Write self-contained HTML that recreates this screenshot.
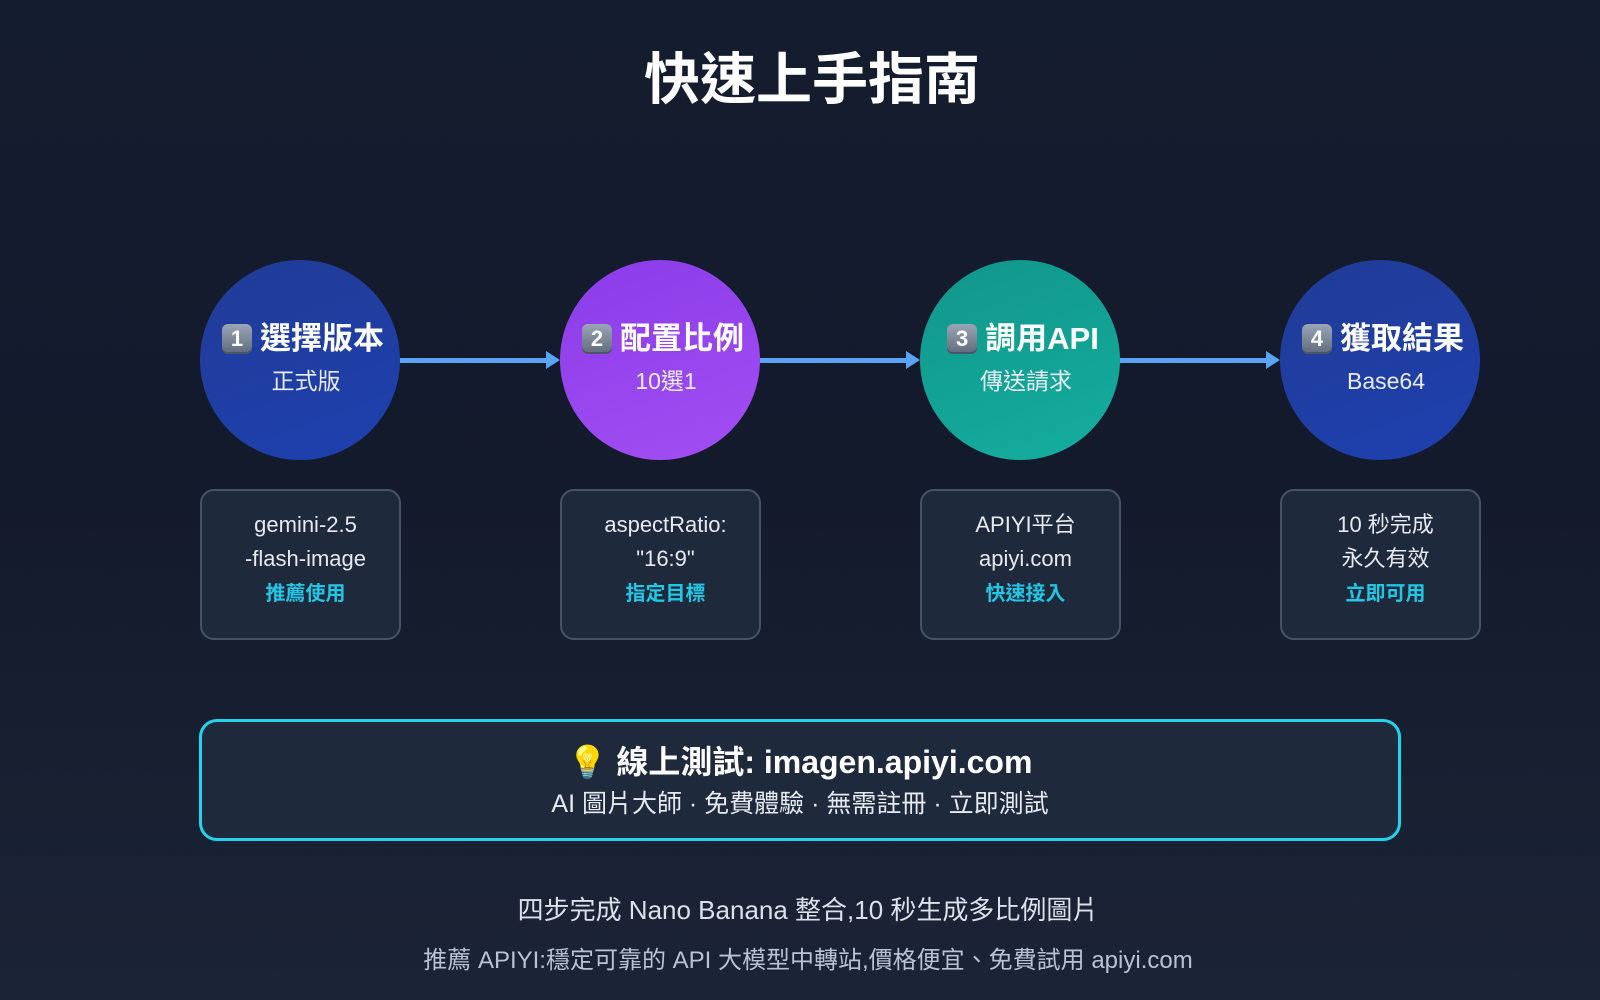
<!DOCTYPE html>
<html><head><meta charset="utf-8"><style>
*{margin:0;padding:0;box-sizing:border-box}
body{width:1600px;height:1000px;overflow:hidden;background:linear-gradient(180deg,#141c2f 0%,#131a2c 50%,#1b2436 100%);font-family:"Liberation Sans","Noto Sans CJK TC",sans-serif;color:#fff;position:relative}
.abs{position:absolute}
.title{left:12px;width:1600px;top:44px;text-align:center;font-size:56px;font-weight:bold;line-height:72px}
.c{width:200px;height:200px;border-radius:50%;top:260px;text-align:center}
.c .h{position:absolute;left:-30px;width:260px;top:61px;font-size:31px;font-weight:bold;line-height:36px;white-space:nowrap;padding-left:6px}
.c .s{position:absolute;left:6px;width:200px;top:106px;font-size:23px;line-height:30px;color:#e8ecf5}
.k{display:inline-block;width:30px;height:30px;border-radius:6px;background:linear-gradient(#9aa6b6,#5f6b7c);font-size:22px;line-height:30px;vertical-align:3px;margin-right:8px;font-weight:bold;box-shadow:inset 0 -2px 0 #4a5565}
.arrow{top:358px;height:5px;background:#5ba3f5;width:150px}
.arrow:after{content:"";position:absolute;right:-10px;top:-7px;border-left:14px solid #5ba3f5;border-top:9.5px solid transparent;border-bottom:9.5px solid transparent}
.b{width:201px;height:151px;top:489px;border:2px solid #475266;border-radius:14px;background:#1e293b;text-align:center;font-size:22px;line-height:34px;padding-top:17px;padding-left:10px;color:#e6e9ef}
.b .g{color:#22c7e6;font-weight:bold;font-size:20px}
</style></head><body>
<div class="abs title">快速上手指南</div>

<div class="abs arrow" style="left:400px"></div>
<div class="abs arrow" style="left:760px"></div>
<div class="abs arrow" style="left:1120px"></div>

<div class="abs c" style="left:200px;background:linear-gradient(160deg,#213c96,#1e40af)"><div class="h"><span class="k">1</span>選擇版本</div><div class="s">正式版</div></div>
<div class="abs c" style="left:560px;background:linear-gradient(160deg,#8b3ce8,#a24ef3)"><div class="h"><span class="k">2</span>配置比例</div><div class="s">10選1</div></div>
<div class="abs c" style="left:920px;background:linear-gradient(160deg,#11968a,#14ae9f)"><div class="h"><span class="k">3</span>調用API</div><div class="s">傳送請求</div></div>
<div class="abs c" style="left:1280px;background:linear-gradient(160deg,#213c96,#1e40af)"><div class="h"><span class="k">4</span>獲取結果</div><div class="s">Base64</div></div>

<div class="abs b" style="left:200px">gemini-2.5<br>-flash-image<br><span class="g">推薦使用</span></div>
<div class="abs b" style="left:560px">aspectRatio:<br>"16:9"<br><span class="g">指定目標</span></div>
<div class="abs b" style="left:920px">APIYI平台<br>apiyi.com<br><span class="g">快速接入</span></div>
<div class="abs b" style="left:1280px">10 秒完成<br>永久有效<br><span class="g">立即可用</span></div>

<div class="abs" style="left:199px;top:719px;width:1202px;height:122px;border:3px solid #22d3ee;border-radius:18px;background:#1e293b;text-align:center">
<div style="margin-top:20px;font-size:32px;font-weight:bold;line-height:40px">💡 線上測試: imagen.apiyi.com</div>
<div style="margin-top:6px;font-size:25px;line-height:32px;color:#e6e9ef">AI 圖片大師 · 免費體驗 · 無需註冊 · 立即測試</div>
</div>

<div class="abs" style="left:8px;width:1600px;top:894px;text-align:center;font-size:26px;line-height:32px;color:#dbe1ea">四步完成 Nano Banana 整合,10 秒生成多比例圖片</div>
<div class="abs" style="left:8px;width:1600px;top:946px;text-align:center;font-size:24px;line-height:30px;color:#b8c2d2">推薦 APIYI:穩定可靠的 API 大模型中轉站,價格便宜、免費試用 apiyi.com</div>
</body></html>
